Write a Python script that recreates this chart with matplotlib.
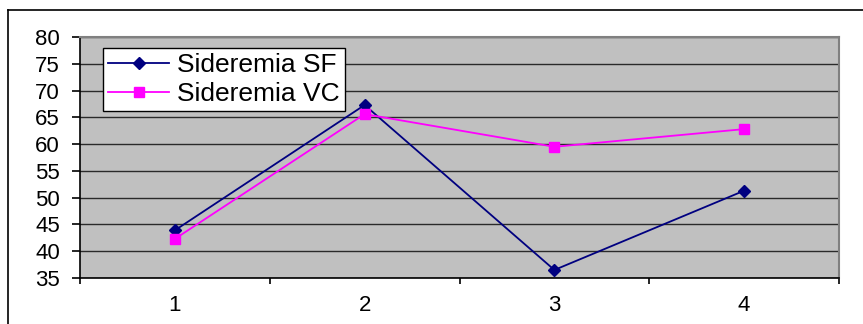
import matplotlib
matplotlib.use("Agg")
import matplotlib.pyplot as plt
from matplotlib.lines import Line2D

categories = ["1", "2", "3", "4"]
sideremia_sf = [43.9, 67.3, 36.5, 51.3]
sideremia_vc = [42.3, 65.6, 59.5, 62.8]
y_ticks = [35, 40, 45, 50, 55, 60, 65, 70, 75, 80]

plt.rcParams["font.family"] = ["Liberation Sans", "DejaVu Sans"]

W, H = 863, 324
fig = plt.figure(figsize=(W / 100, H / 100), dpi=100)

# outer chart frame (left and top edges visible)
fig.add_artist(Line2D([8 / W, 8 / W], [0, 1 - 10 / H], color="black", lw=1.2))
fig.add_artist(Line2D([8 / W, 1], [1 - 10 / H, 1 - 10 / H], color="black", lw=1.2))

left, right, top, bottom = 80, 839, 37, 278
ax = fig.add_axes([left / W, 1 - bottom / H, (right - left) / W, (bottom - top) / H])
ax.set_facecolor("#C0C0C0")

x = list(range(len(categories)))
ax.plot(x, sideremia_sf, color="#000080", lw=1.3, marker="D", ms=6.5,
        markerfacecolor="#000080", markeredgecolor="#000080", label="Sideremia SF")
ax.plot(x, sideremia_vc, color="#FF00FF", lw=1.3, marker="s", ms=7,
        markerfacecolor="#FF00FF", markeredgecolor="#FF00FF", label="Sideremia VC")

ax.set_xlim(-0.5, len(categories) - 0.5)
ax.set_ylim(35, 80)
ax.set_yticks(y_ticks)
ax.set_yticklabels([str(v) for v in y_ticks], fontsize=16)
ax.yaxis.grid(True, color="#2a2a2a", lw=1.0)
ax.set_axisbelow(True)

# category boundaries carry the tick marks, labels sit at centres
ax.set_xticks([i - 0.5 for i in range(len(categories) + 1)])
ax.set_xticklabels([])
ax.set_xticks(x, minor=True)
ax.set_xticklabels(categories, minor=True, fontsize=16)
ax.tick_params(axis="x", which="minor", length=0, pad=12)
ax.tick_params(axis="x", which="major", length=4, width=1.2, direction="out", color="black")
ax.tick_params(axis="y", length=6, width=1.2, direction="out", color="black", pad=8.5)

for side in ("top", "right"):
    ax.spines[side].set_color("#808080")
    ax.spines[side].set_linewidth(1.5)
ax.spines["left"].set_color("black")
ax.spines["bottom"].set_color("black")
ax.spines["left"].set_linewidth(1.2)
ax.spines["bottom"].set_linewidth(1.2)

leg = ax.legend(loc="upper left", bbox_to_anchor=((103 - left) / (right - left), 1 - (48 - top) / (bottom - top)),
                fontsize=19, frameon=True, fancybox=False, framealpha=1, edgecolor="black",
                borderpad=0.2, labelspacing=0.18, handlelength=2.3, handletextpad=0.3, borderaxespad=0)
leg.get_frame().set_linewidth(1.0)

fig.savefig("out.png", dpi=100, facecolor="white")
